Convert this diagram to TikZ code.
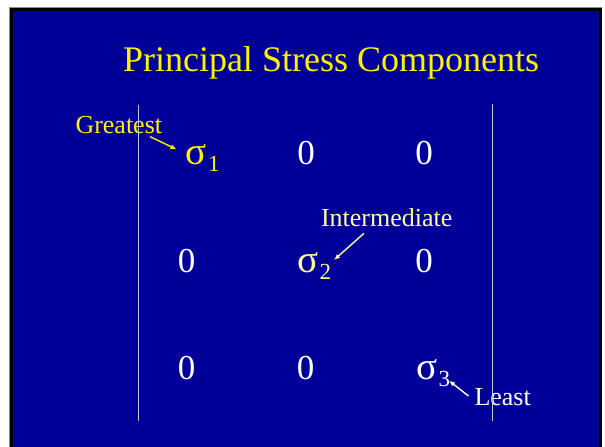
\documentclass[tikz,border=0pt]{standalone}
\usepackage{fontspec}
\setmainfont{Liberation Serif}
\usetikzlibrary{arrows.meta}
\definecolor{slideblue}{HTML}{000099}
\definecolor{paleyellow}{HTML}{FFFF99}
\definecolor{rulecol}{HTML}{C4C4E6}
\begin{document}
\begin{tikzpicture}[x=1pt,y=-1pt,
  every node/.style={inner sep=0pt,outer sep=0pt},
  entry/.style={font=\fontsize{35}{40}\selectfont,text=white,anchor=base},
  sig/.style={font=\fontsize{39}{40}\selectfont,anchor=base west},
  lbl/.style={font=\fontsize{26}{28}\selectfont,anchor=base west},
  pointer/.style={line width=1.4pt,-{Latex[length=6pt,width=5pt]}},
  matline/.style={draw=rulecol,line width=1.1pt}]
\useasboundingbox (0,0) rectangle (605,447);
\fill[white] (0,0) rectangle (605,447);
\fill[black!45] (9,6.5) rectangle (601.5,447);
\fill[black] (9.5,7.5) rectangle (601.5,447);
\fill[slideblue] (12.5,10.5) rectangle (599,447);
% title
\node[font=\fontsize{36}{40}\selectfont,text=yellow,anchor=base] (title) at (331,71.7) {Principal Stress Components};
% matrix entries
\node[sig,text=yellow] (s1) at (185.5,164) {σ\hspace{1.5pt}\raisebox{-7.5pt}{\fontsize{23}{24}\selectfont 1}};
\node[entry] (z12) at (306,164) {0};
\node[entry] (z13) at (424,164) {0};
\node[entry] (z21) at (186.5,272) {0};
\node[sig,text=paleyellow] (s2) at (297,272) {σ\hspace{1.5pt}\raisebox{-7.5pt}{\fontsize{23}{24}\selectfont 2}};
\node[entry] (z23) at (424,272) {0};
\node[entry] (z31) at (186.5,379) {0};
\node[entry] (z32) at (305.5,379) {0};
\node[sig,text=white] (s3) at (416,379) {σ\hspace{1.5pt}\raisebox{-7.5pt}{\fontsize{23}{24}\selectfont 3}};
% labels
\node[lbl,text=yellow] (g) at (75.5,133.3) {Greatest};
\node[lbl,text=paleyellow] (im) at (321,226.7) {Intermediate};
\node[lbl,text=white] (le) at (474.5,405) {Least};
% pointers
\draw[pointer,yellow] ([shift={(-12,3.4)}]g.base east) -- ([shift={(-9,-14.7)}]s1.base west);
\draw[pointer,paleyellow] ([shift={(43,6.6)}]im.base west) -- ([shift={(37,-12)}]s2.base west);
\draw[pointer,white] ([shift={(-6,-9)}]le.base west) -- ([shift={(33,1.7)}]s3.base west);
% matrix rules
\coordinate (lt) at (138.3,104.5);
\coordinate (lb) at (138.3,421);
\coordinate (rt) at (492.7,104);
\coordinate (rb) at (492.7,420.5);
\draw[matline] (lt) -- (lb);
\draw[matline] (rt) -- (rb);
\end{tikzpicture}
\end{document}
